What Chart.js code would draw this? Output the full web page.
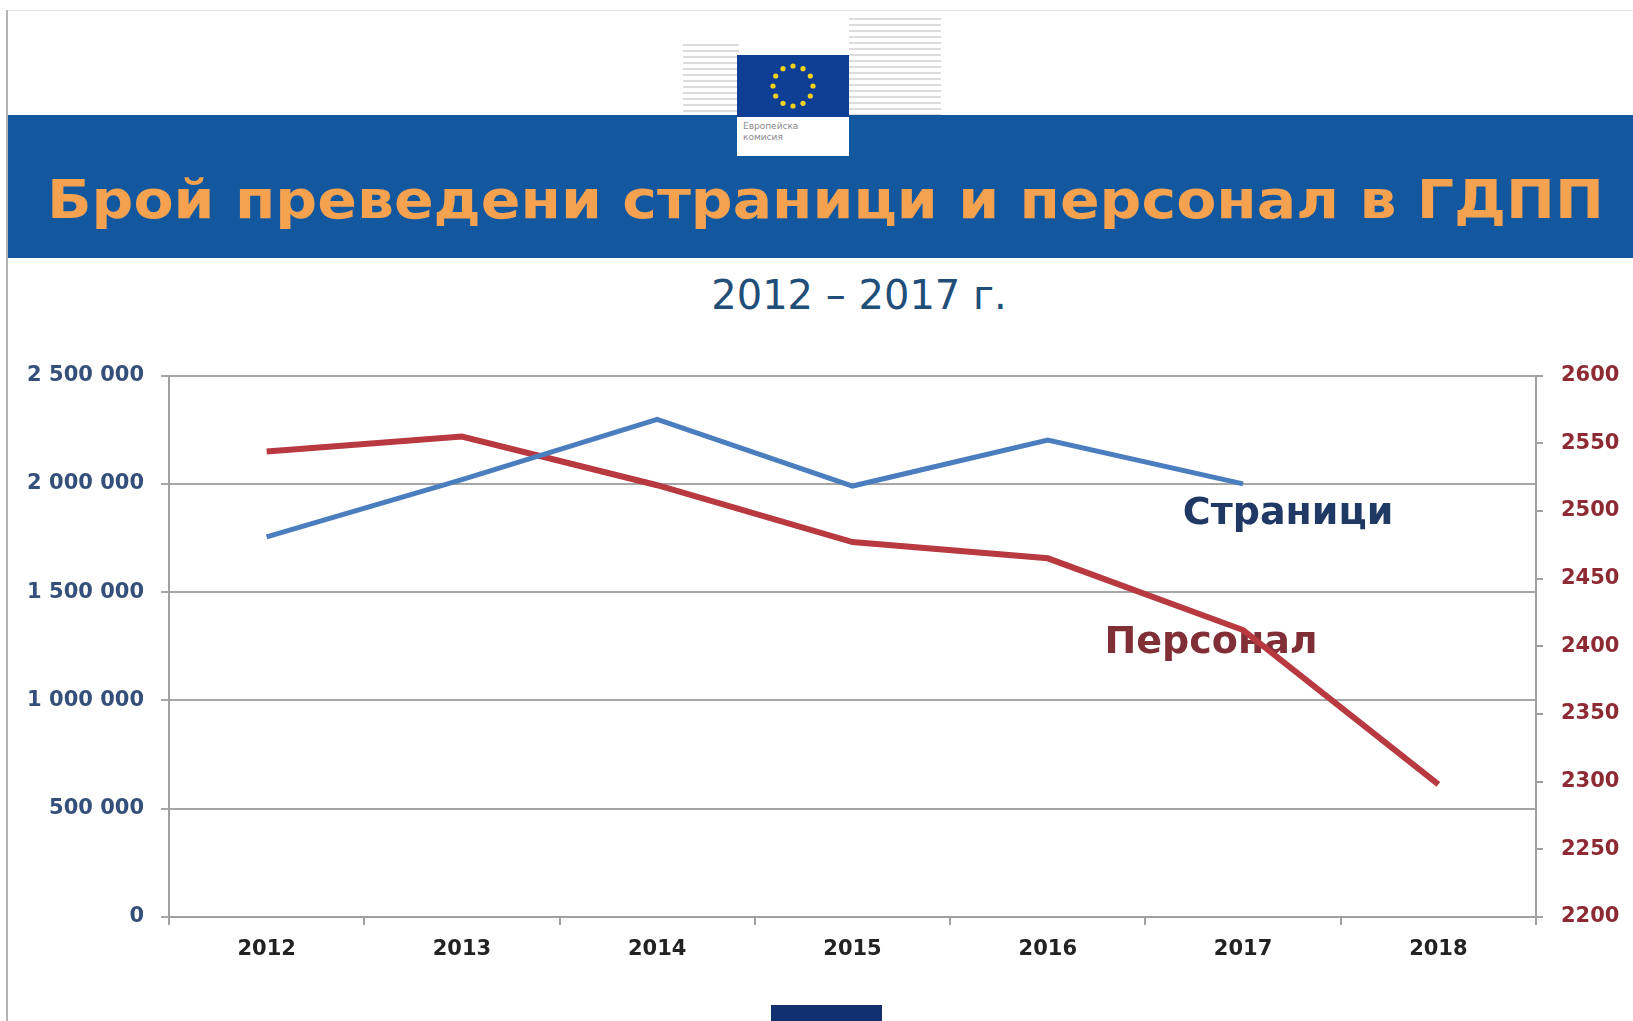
<!DOCTYPE html>
<html>
<head>
<meta charset="utf-8">
<script src="https://cdn.jsdelivr.net/npm/chart.js@4"></script>
<style>
  html, body { margin: 0; padding: 0; background: #fff; }
  body { width: 1633px; height: 1021px; position: relative; overflow: hidden; font-family: "DejaVu Sans", sans-serif; }
  .frame-left { position: absolute; left: 6px; top: 10px; width: 2px; height: 1011px; background: #b4b4b4; }
  .frame-top { position: absolute; left: 6px; top: 10px; width: 1627px; height: 1px; background: #e4e4e4; }
  .band { position: absolute; left: 8px; top: 115px; width: 1625px; height: 143px; background: #13579f; }
  .title { position: absolute; left: 47px; top: 168px; white-space: nowrap; font: bold 54px "DejaVu Sans", sans-serif; color: #f4a24f; transform-origin: 0 0; }
  .subtitle { position: absolute; left: 0; width: 1718px; top: 272px; text-align: center; font: 40px "DejaVu Sans", sans-serif; color: #1f4e79; }
  .bldg { position: absolute; top: 14px; height: 104px; background: repeating-linear-gradient(to bottom, #fff 0px, #fff 4px, #dcdcdc 4px, #dcdcdc 6px); }
  .flag { position: absolute; left: 737px; top: 55px; width: 112px; height: 62px; background: #0f3f95; }
  .flagtext { position: absolute; left: 737px; top: 117px; width: 112px; height: 39px; background: #fff; font: 9px "DejaVu Sans", sans-serif; color: #8a8a8a; line-height: 11px; padding: 4px 0 0 6px; box-sizing: border-box; }
  .bottom-box { position: absolute; left: 771px; top: 1005px; width: 111px; height: 16px; background: #10306f; }
  #wrap { position: absolute; left: 0; top: 345px; width: 1633px; height: 676px; }
</style>
</head>
<body>
<div class="frame-top"></div>
<div class="frame-left"></div>
<div class="bldg" style="left:683px; width:56px; top:40px; height:76px;"></div>
<div class="bldg" style="left:849px; width:92px;"></div>
<div class="band"></div>
<div class="flag"><svg width="112" height="62" id="stars"></svg></div>
<div class="flagtext">Европейска<br>комисия</div>
<div class="title" id="title">Брой преведени страници и персонал в ГДПП</div>
<div class="subtitle">2012 – 2017 г.</div>
<div id="wrap"><canvas id="chart"></canvas></div>
<div class="bottom-box"></div>
<script>
const years = ['2012', '2013', '2014', '2015', '2016', '2017', '2018'];
const pages = [1755000, 2020000, 2298000, 1990000, 2202000, 2000000, null];
const staff = [2544, 2555, 2519, 2477, 2465, 2412, 2298];
const pagesTicks = [0, 500000, 1000000, 1500000, 2000000, 2500000];
const staffTicks = [2200, 2250, 2300, 2350, 2400, 2450, 2500, 2550, 2600];

// EU stars
(function () {
  const svg = document.getElementById('stars');
  let s = '';
  for (let i = 0; i < 12; i++) {
    const a = i * Math.PI / 6;
    s += '<circle cx="' + (56 + 20 * Math.cos(a)).toFixed(1) + '" cy="' + (31 + 20 * Math.sin(a)).toFixed(1) + '" r="2.6" fill="#f3d21b"/>';
  }
  svg.innerHTML = s;
})();

// stretch title to the reference width
(function () {
  const t = document.getElementById('title');
  const w = t.getBoundingClientRect().width;
  t.style.transform = 'scaleX(' + (1557 / w) + ')';
})();

function spaced(v) {
  return v.toString().replace(/\B(?=(\d{3})+(?!\d))/g, ' ');
}

const seriesLabels = {
  id: 'seriesLabels',
  beforeDatasetsDraw(chart) {
    const ctx = chart.ctx;
    const x = chart.scales.x;
    ctx.save();
    ctx.font = 'bold 38px "DejaVu Sans", sans-serif';
    ctx.textAlign = 'center';
    ctx.textBaseline = 'middle';
    ctx.fillStyle = '#7f2f35';
    ctx.fillText('Персонал', x.getPixelForValue(5) - 32, chart.scales.y1.getPixelForValue(2402));
    ctx.fillStyle = '#1f3864';
    ctx.fillText('Страници', x.getPixelForValue(5) + 45, chart.scales.y.getPixelForValue(1860000));
    ctx.restore();
  }
};

const tickFont = { family: 'DejaVu Sans', weight: 'bold', size: 21 };

const ctx = document.getElementById('chart').getContext('2d');
new Chart(ctx, {
  type: 'line',
  data: {
    labels: years,
    datasets: [{
      label: 'Страници',
      data: pages,
      yAxisID: 'y',
      borderColor: '#4a7ebe',
      borderWidth: 5,
      pointRadius: 0,
      tension: 0,
      spanGaps: false
    }, {
      label: 'Персонал',
      data: staff,
      yAxisID: 'y1',
      borderColor: '#b8393f',
      borderWidth: 6,
      pointRadius: 0,
      tension: 0
    }]
  },
  options: {
    responsive: true,
    maintainAspectRatio: false,
    animation: false,
    layout: { padding: { top: 30, right: 0, left: 0, bottom: 0 } },
    plugins: {
      legend: { display: false },
      tooltip: { enabled: false }
    },
    scales: {
      x: {
        offset: true,
        grid: { offset: true, drawOnChartArea: false, drawTicks: true, tickLength: 8, color: '#a0a0a0', lineWidth: 2 },
        border: { display: true, color: '#a0a0a0', width: 2 },
        ticks: { color: '#222', font: tickFont, padding: 12, maxRotation: 0 },
        afterFit(s) { s.height = 104; }
      },
      y: {
        position: 'left',
        min: 0,
        max: 2500000,
        afterBuildTicks(s) { s.ticks = pagesTicks.map(v => ({ value: v })); },
        grid: { color: '#a6a6a6', lineWidth: 2, tickLength: 8 },
        border: { display: true, color: '#a0a0a0', width: 2 },
        ticks: { color: '#34507a', font: tickFont, padding: 17, callback: v => spaced(v) },
        afterFit(s) { s.width = 169; }
      },
      y1: {
        position: 'right',
        min: 2200,
        max: 2600,
        afterBuildTicks(s) { s.ticks = staffTicks.map(v => ({ value: v })); },
        grid: { drawOnChartArea: false, color: '#a0a0a0', lineWidth: 2, tickLength: 7 },
        border: { display: true, color: '#a0a0a0', width: 2 },
        ticks: { color: '#8e2a33', font: tickFont, padding: 18, callback: v => String(v) },
        afterFit(s) { s.width = 97; }
      }
    }
  },
  plugins: [seriesLabels]
});
</script>
</body>
</html>
